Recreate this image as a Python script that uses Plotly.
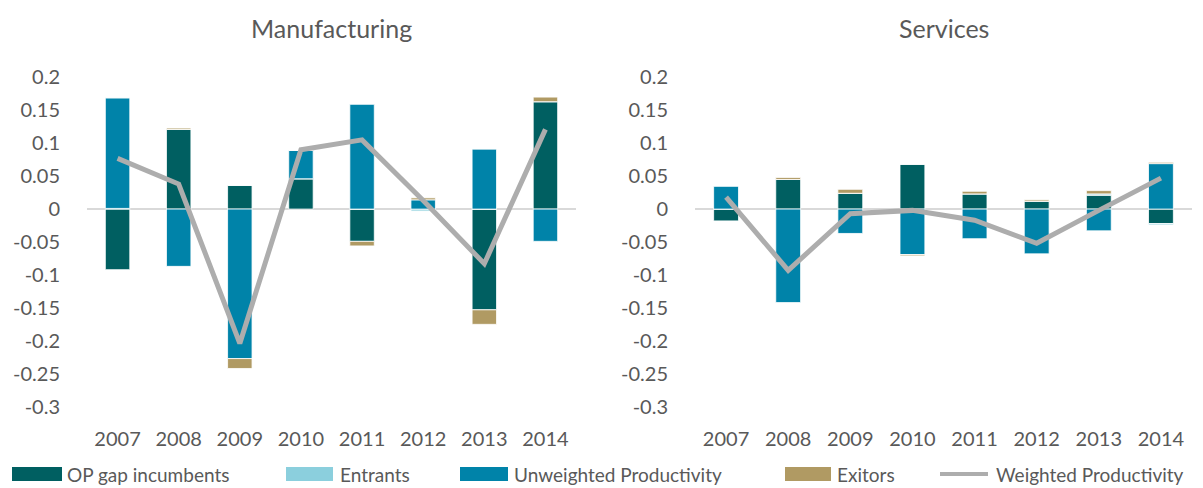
import plotly.graph_objects as go
from plotly.subplots import make_subplots

# the page body keeps its default 8px margin, so the figure is drawn 8px in
PAGE_W, PAGE_H, OFF = 1203, 488, 8
W, H = PAGE_W - OFF, PAGE_H - OFF

years = ['2007', '2008', '2009', '2010', '2011', '2012', '2013', '2014']

# Manufacturing decomposition
mfg_op_gap = [-0.092, 0.121, 0.036, 0.046, -0.049, 0.0, -0.153, 0.163]
mfg_entrants = [0.001, 0.0, 0.0, 0.0, 0.0, -0.003, 0.0, 0.0]
mfg_unweighted = [0.168, -0.087, -0.227, 0.043, 0.159, 0.014, 0.091, -0.049]
mfg_exitors = [0.0, 0.002, -0.015, 0.0, -0.007, 0.003, -0.022, 0.007]
mfg_weighted = [0.077, 0.038, -0.204, 0.090, 0.105, 0.013, -0.083, 0.121]

# Services decomposition
srv_op_gap = [-0.018, 0.045, 0.024, 0.068, 0.023, 0.012, 0.021, -0.022]
srv_entrants = [0.0, 0.0, 0.0, 0.0, 0.0, 0.0, 0.002, -0.002]
srv_unweighted = [0.035, -0.142, -0.037, -0.069, -0.045, -0.068, -0.033, 0.069]
srv_exitors = [0.0, 0.003, 0.006, -0.002, 0.004, 0.002, 0.005, 0.002]
srv_weighted = [0.018, -0.093, -0.007, -0.002, -0.017, -0.052, -0.002, 0.047]

tick_vals = [0.2, 0.15, 0.1, 0.05, 0, -0.05, -0.1, -0.15, -0.2, -0.25, -0.3]
tick_text = ['0.2', '0.15', '0.1', '0.05', '0', '-0.05', '-0.1', '-0.15', '-0.2', '-0.25', '-0.3']

panel_titles = ['Manufacturing', 'Services']
legend_names = ['OP gap incumbents', 'Entrants', 'Unweighted Productivity', 'Exitors', 'Weighted Productivity']

colors = {
    'OP gap incumbents': '#005F61',
    'Entrants': '#8BCFDD',
    'Unweighted Productivity': '#0083A9',
    'Exitors': '#B09A63',
    'Weighted Productivity': '#ADADAD',
}

FONT = 'Lato'
TXT = '#595959'


def px_x(p):
    return (p - OFF) / W


def px_y(p):
    return 1 - (p - OFF) / H


fig = make_subplots(rows=1, cols=2)

panels = [
    (mfg_op_gap, mfg_entrants, mfg_unweighted, mfg_exitors, mfg_weighted),
    (srv_op_gap, srv_entrants, srv_unweighted, srv_exitors, srv_weighted),
]

for col, series in enumerate(panels, start=1):
    # stacked bars, then the weighted line on top
    for name, vals in zip(legend_names[:4], series[:4]):
        fig.add_trace(go.Bar(
            x=years, y=vals, name=name,
            marker=dict(color=colors[name], line=dict(color='white', width=0.8)),
            showlegend=False,
        ), row=1, col=col)
    fig.add_trace(go.Scatter(
        x=years, y=series[4], name=legend_names[4], mode='lines',
        line=dict(color=colors['Weighted Productivity'], width=5),
        showlegend=False,
    ), row=1, col=col)

# plot areas in page pixels
x_domains = [(87, 576), (695, 1192)]
y_top, y_bot = 77, 407

for i, (x0, x1) in enumerate(x_domains, start=1):
    fig.update_xaxes(
        domain=[px_x(x0), px_x(x1)], showgrid=False, showline=False, zeroline=False,
        ticks='outside', ticklen=14, tickcolor='rgba(0,0,0,0)', automargin=False,
        tickfont=dict(family=FONT, size=20, color=TXT),
        row=1, col=i,
    )
    fig.update_yaxes(
        domain=[px_y(y_bot), px_y(y_top)], range=[-0.3005, 0.2005],
        tickvals=tick_vals, ticktext=tick_text, showgrid=False, showline=False,
        zeroline=True, zerolinecolor='#D9D9D9', zerolinewidth=2,
        ticks='outside', ticklen=22, tickcolor='rgba(0,0,0,0)', automargin=False,
        tickfont=dict(family=FONT, size=20, color=TXT),
        row=1, col=i,
    )
    fig.add_annotation(
        x=px_x((x0 + x1) / 2), y=px_y(28), xref='paper', yref='paper',
        text=panel_titles[i - 1], showarrow=False, xanchor='center', yanchor='middle',
        font=dict(family=FONT, size=25, color=TXT),
    )

# legend row drawn along the bottom
legend_pos = [(12, 62, 65), (286, 333, 338), (460, 508, 512), (785, 831, 835), (940, 988, 994)]
ly = 474
for name, (s0, s1, tx) in zip(legend_names, legend_pos):
    if name == 'Weighted Productivity':
        fig.add_shape(type='line', xref='paper', yref='paper',
                      x0=px_x(s0), x1=px_x(s1), y0=px_y(ly), y1=px_y(ly),
                      line=dict(color=colors[name], width=4))
    else:
        fig.add_shape(type='rect', xref='paper', yref='paper',
                      x0=px_x(s0), x1=px_x(s1), y0=px_y(ly + 7), y1=px_y(ly - 7),
                      fillcolor=colors[name], line=dict(width=0))
    fig.add_annotation(
        x=px_x(tx), y=px_y(ly), xref='paper', yref='paper', text=name,
        showarrow=False, xanchor='left', yanchor='middle',
        font=dict(family=FONT, size=19, color=TXT),
    )

fig.update_layout(
    width=W, height=H,
    barmode='relative', bargap=0.6,
    margin=dict(l=0, r=0, t=0, b=0),
    plot_bgcolor='white', paper_bgcolor='white',
    showlegend=False,
)

fig.write_html("out.html")
